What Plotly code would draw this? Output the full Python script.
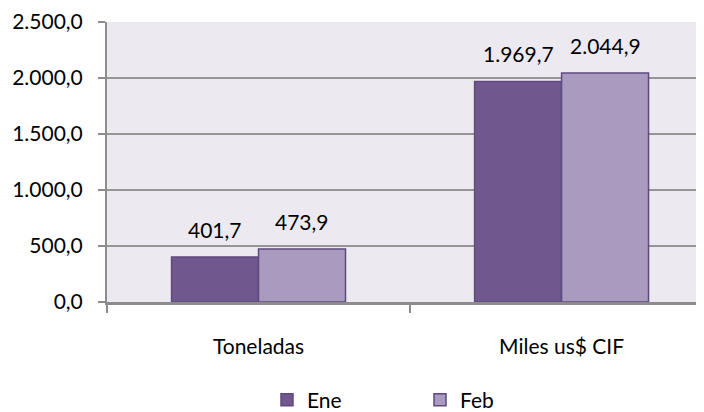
import plotly.graph_objects as go

categories = ["Toneladas", "Miles us$ CIF"]
series_names = ["Ene", "Feb"]
ene_values = [401.7, 1969.7]
feb_values = [473.9, 2044.9]
y_tickvals = [0, 500, 1000, 1500, 2000, 2500]

colors = {"Ene": "#70588E", "Feb": "#A99AC0"}
border = "#5E4A7E"
FONT = "Lato"
FS = 21
BARGAP = 0.426

fig = go.Figure()
for name, vals in zip(series_names, [ene_values, feb_values]):
    fig.add_trace(go.Bar(
        name=name, x=categories, y=vals,
        marker=dict(color=colors[name], line=dict(color=border, width=1.5)),
    ))

# data labels as annotations centred on each bar
half = (1 - BARGAP) / 4
for k, vals in enumerate([ene_values, feb_values]):
    off = -half if k == 0 else half
    for i, v in enumerate(vals):
        txt = f"{v:,.1f}".replace(",", "X").replace(".", ",").replace("X", ".")
        fig.add_annotation(x=i + off, y=v, text=txt, showarrow=False,
                           xref="x", yref="y", yanchor="bottom", yshift=13,
                           font=dict(family=FONT, size=FS, color="#000000"))

# page body has an 8px margin, so the figure is sized/offset to compensate
fig.update_layout(
    width=696, height=404,
    margin=dict(l=99, r=0, t=14, b=110, autoexpand=False),
    paper_bgcolor="#FFFFFF", plot_bgcolor="#ECEAF0",
    barmode="group", bargap=BARGAP, bargroupgap=0,
    separators=",.",
    font=dict(family=FONT, size=FS, color="#000000"),
    showlegend=True,
    legend=dict(orientation="h", x=0.268, xanchor="left", y=-0.35, yanchor="middle",
                font=dict(family=FONT, size=FS, color="#000000"),
                entrywidth=108, entrywidthmode="pixels", bgcolor="rgba(0,0,0,0)"),
)
fig.update_xaxes(
    range=[-0.5, 1.47], showgrid=False, tickson="boundaries", automargin=False,
    ticks="outside", ticklen=8, tickwidth=1.5, tickcolor="#8C8C8C",
    showline=True, linecolor="#8C8C8C", linewidth=2.5,
    ticklabelstandoff=24, tickfont=dict(family=FONT, size=FS, color="#000000"),
)
fig.update_yaxes(
    range=[0, 2500], tickvals=y_tickvals, tickformat=",.1f", automargin=False,
    showgrid=True, gridcolor="#959595", gridwidth=2,
    ticks="outside", ticklen=7, tickwidth=2, tickcolor="#8C8C8C",
    showline=True, linecolor="#8C8C8C", linewidth=2, zeroline=False,
    ticklabelstandoff=11, tickfont=dict(family=FONT, size=FS, color="#000000"),
)

fig.write_html("out.html")
